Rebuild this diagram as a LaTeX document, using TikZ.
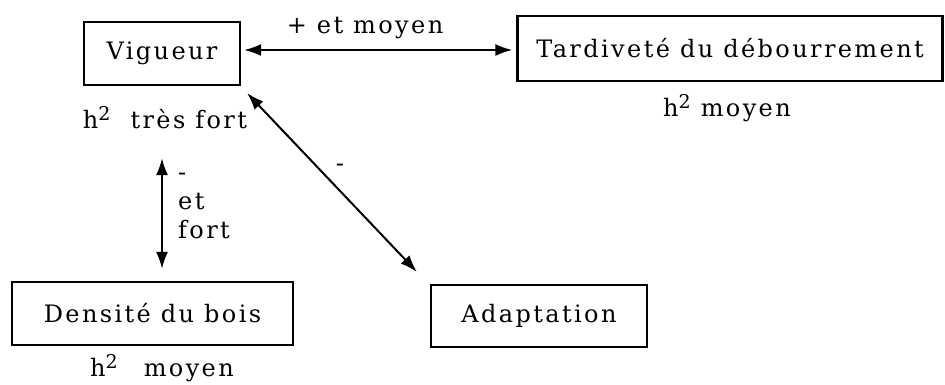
\documentclass[tikz,border=0pt]{standalone}
\usepackage{fontspec}
\newfontfamily\tw{DejaVu Serif}[LetterSpace=10]
\newcommand{\hsq}{h\raisebox{8pt}{\fontsize{19}{19}\selectfont 2}}
\usetikzlibrary{arrows.meta,calc}
\begin{document}
\begin{tikzpicture}[x=1pt,y=1pt,
  txt/.style={inner sep=0pt, font=\tw\fontsize{24}{29}\selectfont},
  box/.style={txt, draw, line width=2.2pt, minimum height=63pt},
  conn/.style={line width=2pt, {Latex[length=17pt,width=12pt]}-{Latex[length=17pt,width=12pt]}}]
\useasboundingbox (0,0) rectangle (945,385);
\node[box, minimum width=156pt] (vig) at (162,331.5) {Vigueur};
\node[box, minimum width=425pt, minimum height=65pt] (tard) at (730,336.5) {Tardiveté du débourrement};
\node[box, minimum width=281pt] (dens) at (152.5,71.5) {Densité du bois};
\node[box, minimum width=216pt, minimum height=62pt] (adapt) at (539,69) {Adaptation};
% labels
\node[txt] (l1) at (365,357) {+ et moyen};
\node[txt] (hv) at (165,267) {\hsq\hspace{20pt}très fort};
\node[txt] (ht) at (727,277) {\hsq\ moyen};
\node[txt] (hd) at (162,17) {\hsq\hspace{26pt}moyen};
\node[txt, align=left, anchor=north west] (l2) at (178,212) {-\\et\\fort};
\node[txt] (l3) at (340,217) {-};
% connectors
\draw[conn] ($(vig.east)+(3,3.5)$) -- ($(tard.west)+(-4,-1.5)$);
\draw[conn] ($(vig.south)+(0,-72)$) -- ($(dens.north -| vig.south)+(0,12)$);
\draw[conn] ($(vig.south east)+(6,-7)$) -- ($(adapt.north west)+(-13,12)$);
\end{tikzpicture}
\end{document}
